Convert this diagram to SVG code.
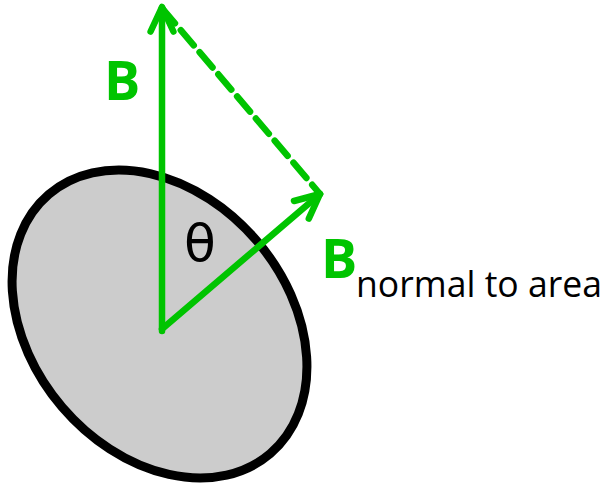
<svg xmlns="http://www.w3.org/2000/svg" width="611" height="485" viewBox="0 0 611 485">
<style>
.g{stroke:#00c400;stroke-width:6.5;fill:none;stroke-linecap:round;stroke-linejoin:round}
.lbl{font-family:"Open Sans","Liberation Sans",sans-serif;font-weight:700;font-size:54px;fill:#00c400}
.sub{font-family:"Open Sans","Liberation Sans",sans-serif;font-size:37px;fill:#000}
.th{font-family:"DejaVu Sans","Liberation Sans",sans-serif;font-size:52px;fill:#000}
</style>
<rect width="611" height="485" fill="#fff"/>
<g id="area">
<ellipse cx="159.5" cy="324" rx="170.5" ry="128" transform="rotate(49.5 159.5 324)" fill="#cccccc" stroke="#000" stroke-width="9"/>
</g>
<g id="connectors">
<line class="g" x1="162" y1="8" x2="320" y2="194" stroke-dasharray="20 9" stroke-linecap="butt"/>
<line class="g" x1="162" y1="331" x2="162" y2="8" stroke-linecap="butt"/>
<path class="g" d="M150.6,31.5 L162,7 L173.4,31.5"/>
<line class="g" x1="162" y1="329" x2="320" y2="194" stroke-linecap="butt"/>
<path class="g" d="M294,201 L320,194 L308.8,218.6"/>
</g>
<g id="label-B">
<text class="lbl" x="104" y="100">B</text>
</g>
<g id="label-theta">
<text class="th" x="184" y="261">θ</text>
</g>
<g id="label-Bnormal">
<text class="lbl" x="321" y="278">B</text>
<text class="sub" x="356" y="297" textLength="246" lengthAdjust="spacingAndGlyphs">normal to area</text>
</g>
</svg>
